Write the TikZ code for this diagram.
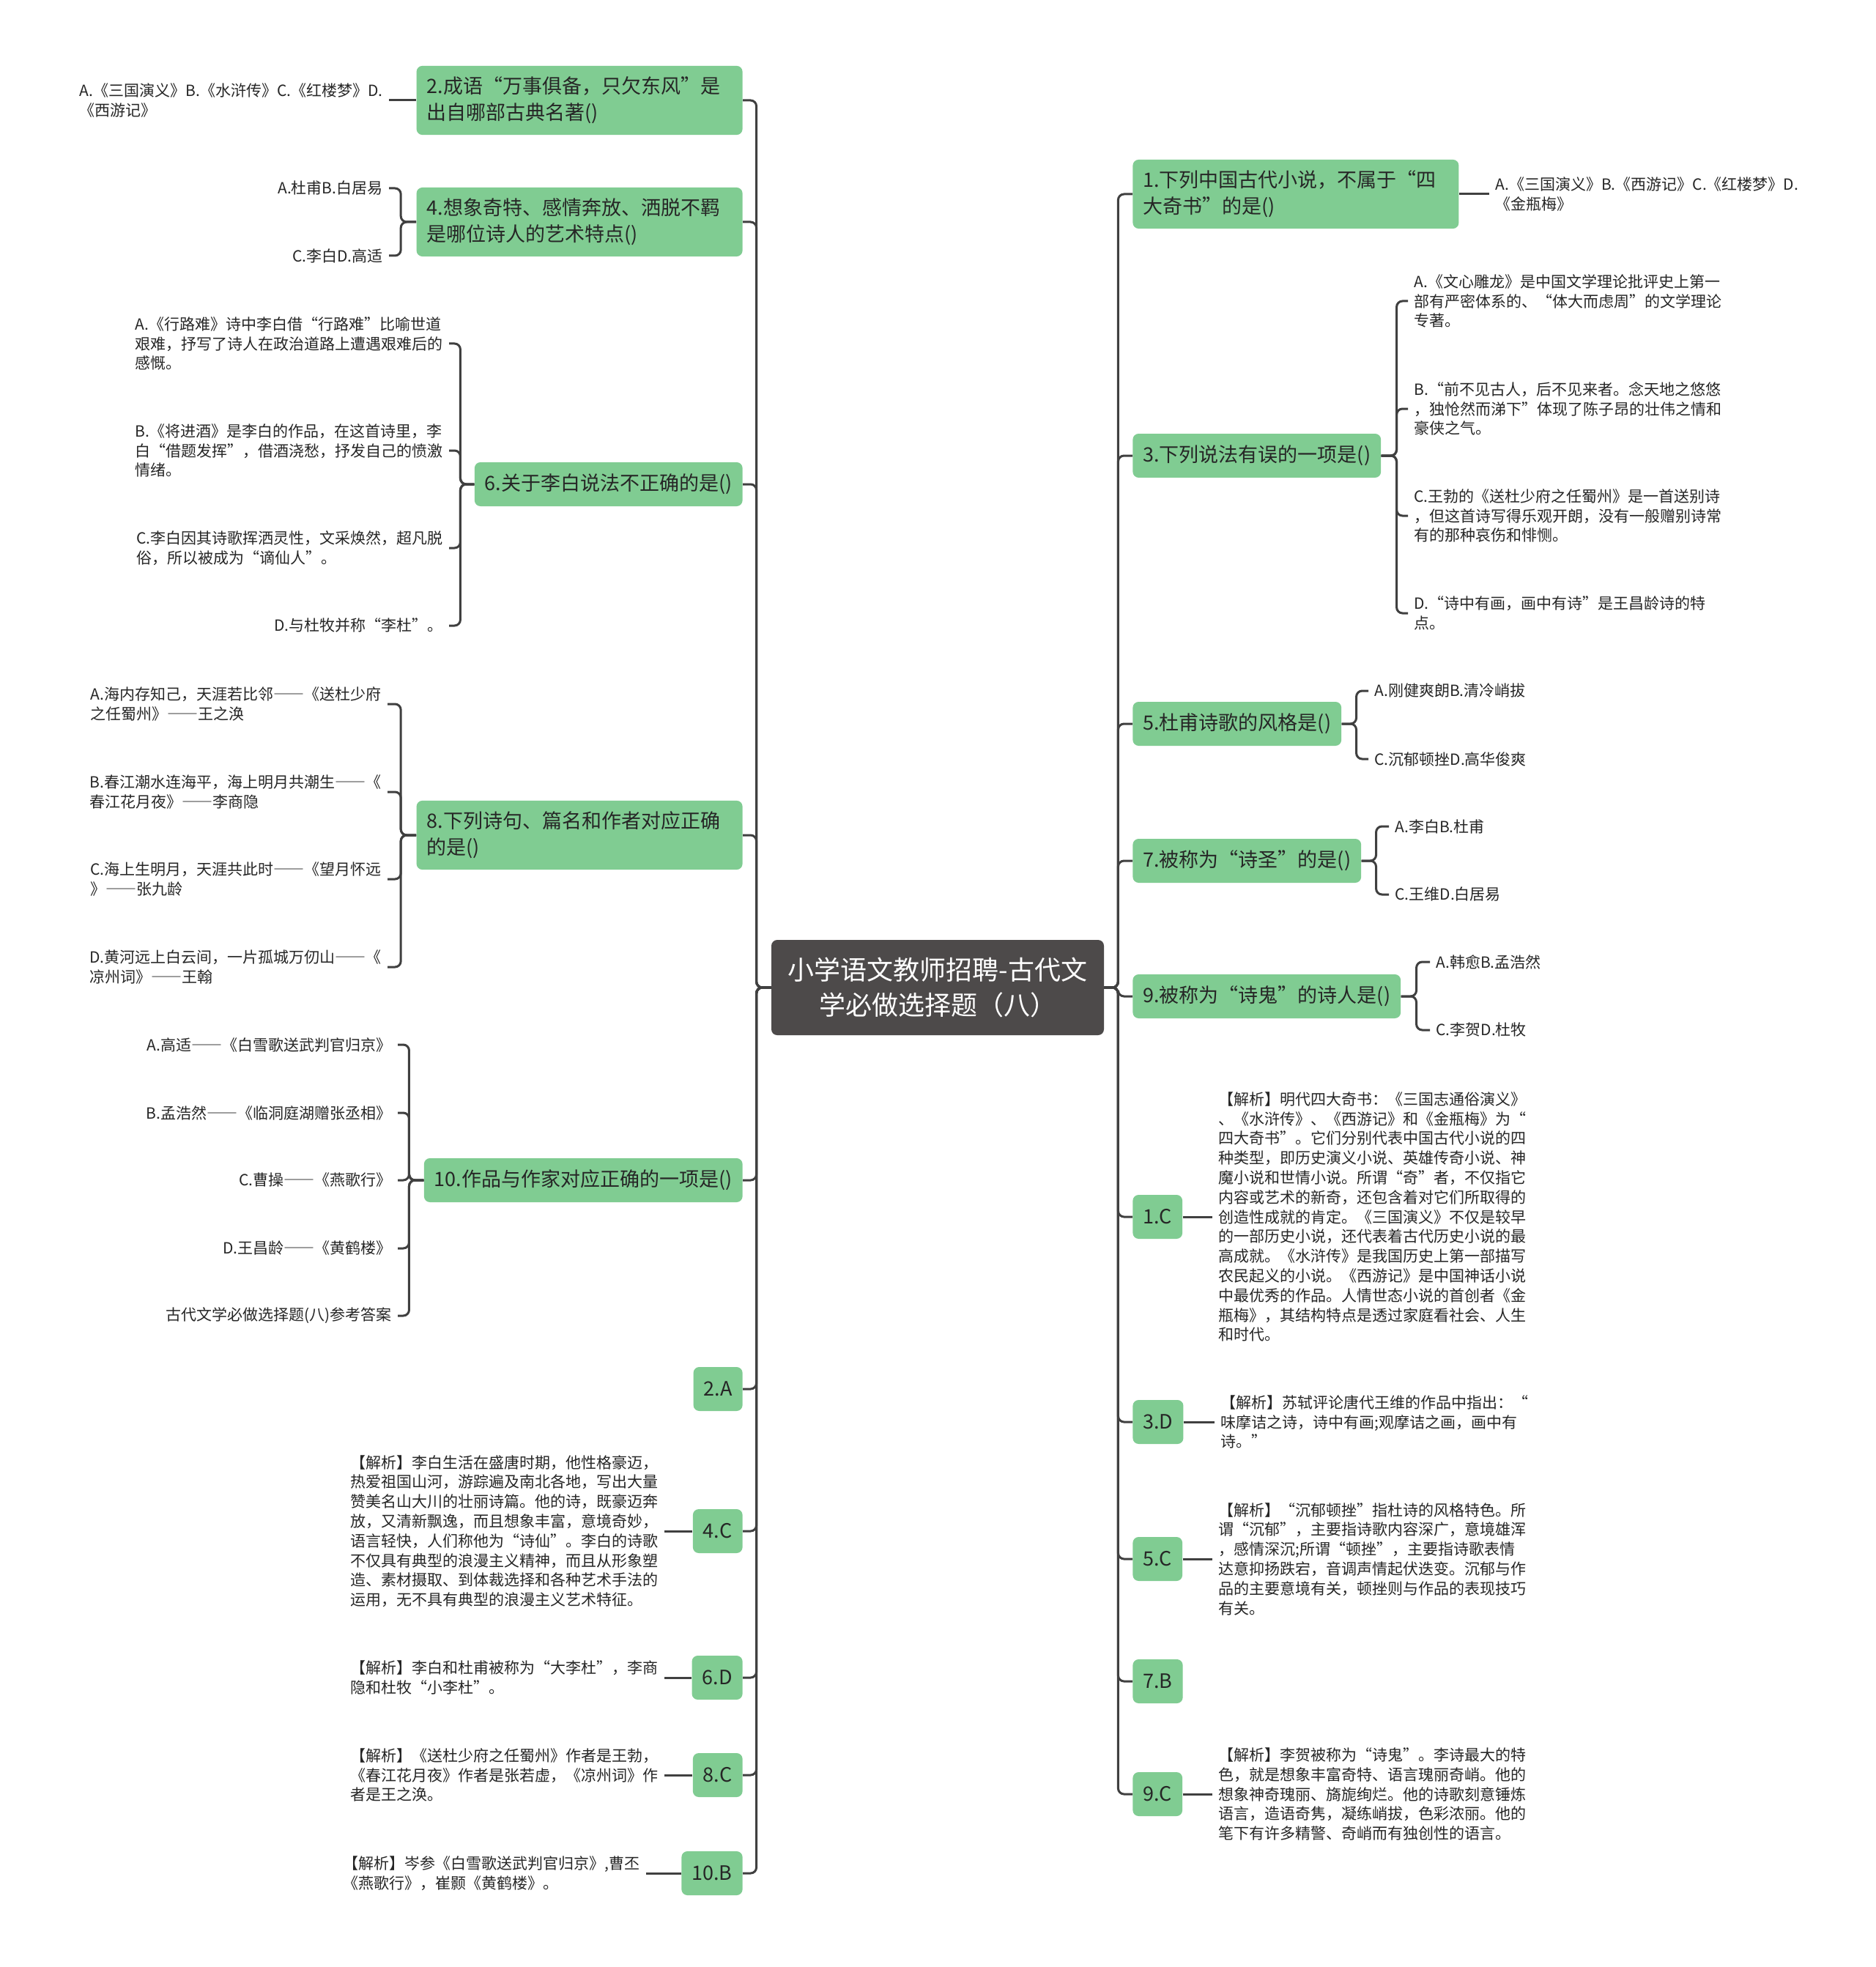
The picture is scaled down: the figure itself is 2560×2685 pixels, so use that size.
\documentclass[tikz,border=0pt]{standalone}
\usepackage{fontspec}
\setmainfont{Noto Sans CJK SC}
\newfontfamily\fw[CharacterWidth=Full]{Noto Sans CJK SC}
\usepackage{xcolor}
\usepackage{tikz}
\definecolor{qgreen}{RGB}{128,204,146}
\definecolor{topicgray}{RGB}{77,74,74}
\definecolor{linegray}{RGB}{64,64,64}
\colorlet{txt}{black!85}
\newcommand\qfont{\fontsize{13.5}{18}\selectfont}
\newcommand\lfont{\fontsize{10.5}{13.4}\selectfont}
\newcommand\dd{{\fw ——}}
\tikzstyle{topic}=[fill=topicgray,text=white,rounded corners=4pt,align=center,minimum width=227pt,minimum height=65pt,font=\fontsize{18}{24}\selectfont]
\tikzstyle{qn}=[fill=qgreen,text=txt,rounded corners=4pt,align=left,inner xsep=7pt,inner ysep=7.5pt,minimum height=30pt,font=\qfont]
\tikzstyle{qw}=[qn,text width=208.5pt]
\tikzstyle{an}=[qn,minimum width=33.5pt,align=center]
\tikzstyle{lf}=[text=txt,align=left,inner xsep=4pt,inner ysep=0pt,font=\lfont]
\tikzstyle{br}=[draw=linegray,line width=1.5pt,rounded corners=4pt]

\begin{document}
\begin{tikzpicture}[x=0.5pt,y=-0.5pt]
	\fill[white,use as bounding box] (0,0) rectangle (2560,2685);
	\node[topic] (top) at (1280,1348) {小学语文教师招聘-古代文\\学必做选择题（八）};

	% left side
	\node[qw,anchor=east] (q2) at (1014,137) {2.成语“万事俱备，只欠东风”是\\出自哪部古典名著()};
	\node[qw,anchor=east] (q4) at (1014,303) {4.想象奇特、感情奔放、洒脱不羁\\是哪位诗人的艺术特点()};
	\node[qn,anchor=east] (q6) at (1014,661) {6.关于李白说法不正确的是()};
	\node[qw,anchor=east] (q8) at (1014,1140) {8.下列诗句、篇名和作者对应正确\\的是()};
	\node[qn,anchor=east] (q10) at (1014,1611) {10.作品与作家对应正确的一项是()};
	\node[an,anchor=east] (a2) at (1014,1896) {2.A};
	\node[an,anchor=east] (a4) at (1014,2090) {4.C};
	\node[an,anchor=east] (a6) at (1014,2290) {6.D};
	\node[an,anchor=east] (a8) at (1014,2423) {8.C};
	\node[an,anchor=east] (a10) at (1014,2557) {10.B};

	\node[lf,anchor=east] (l2) at (531,137) {A.《三国演义》B.《水浒传》C.《红楼梦》D.\\《西游记》};
	\node[lf,anchor=east] (l4a) at (531,257) {A.杜甫B.白居易};
	\node[lf,anchor=east] (l4c) at (531,349) {C.李白D.高适};
	\node[lf,anchor=east] (l6a) at (613,469) {A.《行路难》诗中李白借“行路难”比喻世道\\艰难，抒写了诗人在政治道路上遭遇艰难后的\\感慨。};
	\node[lf,anchor=east] (l6b) at (613,615) {B.《将进酒》是李白的作品，在这首诗里，李\\白“借题发挥”，借酒浇愁，抒发自己的愤激\\情绪。};
	\node[lf,anchor=east] (l6c) at (613,748) {C.李白因其诗歌挥洒灵性，文采焕然，超凡脱\\俗，所以被成为“谪仙人”。};
	\node[lf,anchor=east] (l6d) at (613,854) {D.与杜牧并称“李杜”。};
	\node[lf,anchor=east] (l8a) at (529,961) {A.海内存知己，天涯若比邻\dd《送杜少府\\之任蜀州》\dd 王之涣};
	\node[lf,anchor=east] (l8b) at (529,1081) {B.春江潮水连海平，海上明月共潮生\dd《\\春江花月夜》\dd 李商隐};
	\node[lf,anchor=east] (l8c) at (529,1200) {C.海上生明月，天涯共此时\dd《望月怀远\\》\dd 张九龄};
	\node[lf,anchor=east] (l8d) at (529,1320) {D.黄河远上白云间，一片孤城万仞山\dd《\\凉州词》\dd 王翰};
	\node[lf,anchor=east] (l10a) at (543,1426) {A.高适\dd《白雪歌送武判官归京》};
	\node[lf,anchor=east] (l10b) at (543,1519) {B.孟浩然\dd《临洞庭湖赠张丞相》};
	\node[lf,anchor=east] (l10c) at (543,1611) {C.曹操\dd《燕歌行》};
	\node[lf,anchor=east] (l10d) at (543,1704) {D.王昌龄\dd《黄鹤楼》};
	\node[lf,anchor=east] (l10e) at (543,1796) {古代文学必做选择题(八)参考答案};
	\node[lf,anchor=east] (x4) at (907,2090) {【解析】李白生活在盛唐时期，他性格豪迈，\\热爱祖国山河，游踪遍及南北各地，写出大量\\赞美名山大川的壮丽诗篇。他的诗，既豪迈奔\\放，又清新飘逸，而且想象丰富，意境奇妙，\\语言轻快，人们称他为“诗仙”。李白的诗歌\\不仅具有典型的浪漫主义精神，而且从形象塑\\造、素材摄取、到体裁选择和各种艺术手法的\\运用，无不具有典型的浪漫主义艺术特征。};
	\node[lf,anchor=east] (x6) at (907,2290) {【解析】李白和杜甫被称为“大李杜”，李商\\隐和杜牧“小李杜”。};
	\node[lf,anchor=east] (x8) at (907,2423) {【解析】《送杜少府之任蜀州》作者是王勃，\\《春江花月夜》作者是张若虚，《凉州词》作\\者是王之涣。};
	\node[lf,anchor=east] (x10) at (882,2557) {【解析】岑参《白雪歌送武判官归京》,曹丕\\《燕歌行》，崔颢《黄鹤楼》。};

	% right side
	\node[qw,anchor=west] (q1) at (1546,265) {1.下列中国古代小说，不属于“四\\大奇书”的是()};
	\node[qn,anchor=west] (q3) at (1546,622) {3.下列说法有误的一项是()};
	\node[qn,anchor=west] (q5) at (1546,988) {5.杜甫诗歌的风格是()};
	\node[qn,anchor=west] (q7) at (1546,1175) {7.被称为“诗圣”的是()};
	\node[qn,anchor=west] (q9) at (1546,1360) {9.被称为“诗鬼”的诗人是()};
	\node[an,anchor=west] (a1) at (1546,1661) {1.C};
	\node[an,anchor=west] (a3) at (1546,1941) {3.D};
	\node[an,anchor=west] (a5) at (1546,2128) {5.C};
	\node[an,anchor=west] (a7) at (1546,2295) {7.B};
	\node[an,anchor=west] (a9) at (1546,2449) {9.C};

	\node[lf,anchor=west] (l1) at (2033,265) {A.《三国演义》B.《西游记》C.《红楼梦》D.\\《金瓶梅》};
	\node[lf,anchor=west] (l3a) at (1922,411) {A.《文心雕龙》是中国文学理论批评史上第一\\部有严密体系的、“体大而虑周”的文学理论\\专著。};
	\node[lf,anchor=west] (l3b) at (1922,558) {B.“前不见古人，后不见来者。念天地之悠悠\\，独怆然而涕下”体现了陈子昂的壮伟之情和\\豪侠之气。};
	\node[lf,anchor=west] (l3c) at (1922,704) {C.王勃的《送杜少府之任蜀州》是一首送别诗\\，但这首诗写得乐观开朗，没有一般赠别诗常\\有的那种哀伤和悱恻。};
	\node[lf,anchor=west] (l3d) at (1922,837) {D.“诗中有画，画中有诗”是王昌龄诗的特\\点。};
	\node[lf,anchor=west] (l5a) at (1868,943) {A.刚健爽朗B.清冷峭拔};
	\node[lf,anchor=west] (l5c) at (1868,1036) {C.沉郁顿挫D.高华俊爽};
	\node[lf,anchor=west] (l7a) at (1896,1128) {A.李白B.杜甫};
	\node[lf,anchor=west] (l7c) at (1896,1221) {C.王维D.白居易};
	\node[lf,anchor=west] (l9a) at (1952,1313) {A.韩愈B.孟浩然};
	\node[lf,anchor=west] (l9c) at (1952,1406) {C.李贺D.杜牧};
	\node[lf,anchor=west] (y1) at (1655,1661) {【解析】明代四大奇书：《三国志通俗演义》\\、《水浒传》、《西游记》和《金瓶梅》为“\\四大奇书”。它们分别代表中国古代小说的四\\种类型，即历史演义小说、英雄传奇小说、神\\魔小说和世情小说。所谓“奇”者，不仅指它\\内容或艺术的新奇，还包含着对它们所取得的\\创造性成就的肯定。《三国演义》不仅是较早\\的一部历史小说，还代表着古代历史小说的最\\高成就。《水浒传》是我国历史上第一部描写\\农民起义的小说。《西游记》是中国神话小说\\中最优秀的作品。人情世态小说的首创者《金\\瓶梅》，其结构特点是透过家庭看社会、人生\\和时代。};
	\node[lf,anchor=west] (y3) at (1658,1941) {【解析】苏轼评论唐代王维的作品中指出：“\\味摩诘之诗，诗中有画;观摩诘之画，画中有\\诗。”};
	\node[lf,anchor=west] (y5) at (1655,2128) {【解析】“沉郁顿挫”指杜诗的风格特色。所\\谓“沉郁”，主要指诗歌内容深广，意境雄浑\\，感情深沉;所谓“顿挫”，主要指诗歌表情\\达意抑扬跌宕，音调声情起伏迭变。沉郁与作\\品的主要意境有关，顿挫则与作品的表现技巧\\有关。};
	\node[lf,anchor=west] (y9) at (1655,2449) {【解析】李贺被称为“诗鬼”。李诗最大的特\\色，就是想象丰富奇特、语言瑰丽奇峭。他的\\想象神奇瑰丽、旖旎绚烂。他的诗歌刻意锤炼\\语言，造语奇隽，凝练峭拔，色彩浓丽。他的\\笔下有许多精警、奇峭而有独创性的语言。};

	% connectors
	\foreach \n in {q2,q4,q6,q8,q10,a2,a4,a6,a8,a10}
		\draw[br] (top.west) -- ++(-20,0) |- (\n.east);
	\foreach \n in {q1,q3,q5,q7,q9,a1,a3,a5,a7,a9}
		\draw[br] (top.east) -- ++(19,0) |- (\n.west);
	\draw[br] (q2.west) -- (l2.east);
	\foreach \c in {l4a,l4c} \draw[br] (q4.west) -- ++(-21,0) |- (\c.east);
	\foreach \c in {l6a,l6b,l6c,l6d} \draw[br] (q6.west) -- ++(-19,0) |- (\c.east);
	\foreach \c in {l8a,l8b,l8c,l8d} \draw[br] (q8.west) -- ++(-21,0) |- (\c.east);
	\foreach \c in {l10a,l10b,l10c,l10d,l10e} \draw[br] (q10.west) -- ++(-20,0) |- (\c.east);
	\draw[br] (a4.west) -- (x4.east);
	\draw[br] (a6.west) -- (x6.east);
	\draw[br] (a8.west) -- (x8.east);
	\draw[br] (a10.west) -- (x10.east);
	\draw[br] (q1.east) -- (l1.west);
	\foreach \c in {l3a,l3b,l3c,l3d} \draw[br] (q3.east) -- ++(21,0) |- (\c.west);
	\foreach \c in {l5a,l5c} \draw[br] (q5.east) -- ++(20,0) |- (\c.west);
	\foreach \c in {l7a,l7c} \draw[br] (q7.east) -- ++(20,0) |- (\c.west);
	\foreach \c in {l9a,l9c} \draw[br] (q9.east) -- ++(21,0) |- (\c.west);
	\draw[br] (a1.east) -- (y1.west);
	\draw[br] (a3.east) -- (y3.west);
	\draw[br] (a5.east) -- (y5.west);
	\draw[br] (a9.east) -- (y9.west);
\end{tikzpicture}
\end{document}
